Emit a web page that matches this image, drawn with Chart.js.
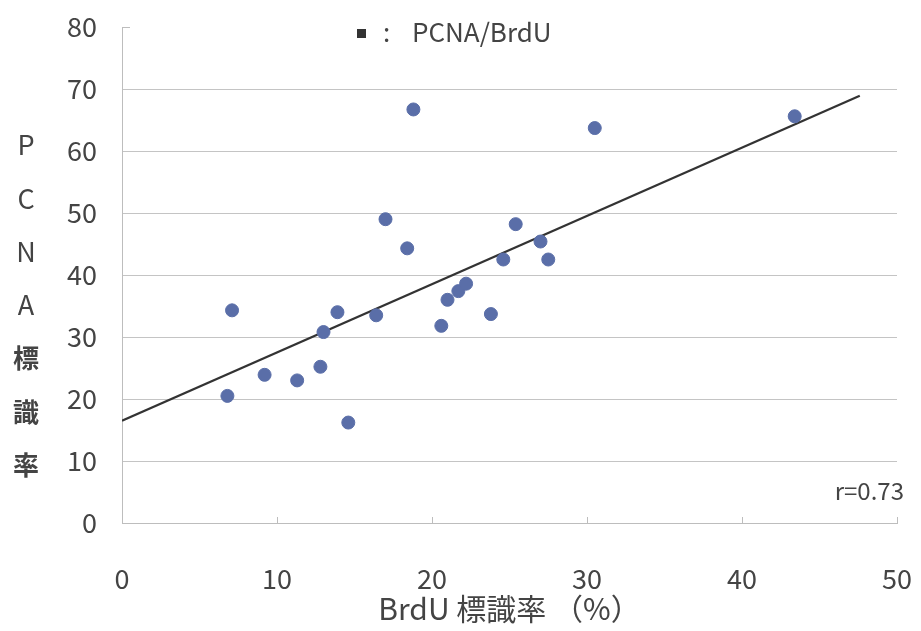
<!DOCTYPE html>
<html>
<head>
<meta charset="utf-8">
<script src="https://cdn.jsdelivr.net/npm/chart.js@4/dist/chart.umd.min.js"></script>
<style>
  html, body { margin: 0; padding: 0; background: #ffffff; }
  #wrap { width: 921px; height: 631px; position: relative; }
</style>
</head>
<body>
<div id="wrap"><canvas id="scatterChart"></canvas></div>
<script>
// measured values: BrdU labelling (%) vs PCNA labelling (%)
const brduRate = [6.8, 7.1, 9.2, 11.3, 12.8, 13.0, 13.9, 14.6, 16.4, 17.0, 18.4, 18.8,
                  20.6, 21.0, 21.7, 22.2, 23.8, 24.6, 25.4, 27.0, 27.5, 30.5, 43.4];
const pcnaRate = [20.5, 34.3, 23.9, 23.0, 25.2, 30.8, 34.0, 16.2, 33.5, 49.0, 44.3, 66.7,
                  31.8, 36.0, 37.4, 38.6, 33.7, 42.5, 48.2, 45.4, 42.5, 63.7, 65.6];
// regression line end points
const fitX = [0, 47.6];
const fitY = [16.5, 68.9];

const xTicks = [0, 10, 20, 30, 40, 50];
const yTitleChars = ['P', 'C', 'N', 'A', '標', '識', '率'];
const legendText = 'PCNA/BrdU';
const rText = 'r=0.73';

const FONT = '"Noto Sans CJK JP", "Noto Sans", sans-serif';
const TEXT = '#444444';

const pointData = brduRate.map((x, i) => ({ x: x, y: pcnaRate[i] }));
const fitData = fitX.map((x, i) => ({ x: x, y: fitY[i] }));

// upright stacked y title, legend text, r value and inward x ticks
const decorations = {
    id: 'decorations',
    afterDraw(chart) {
        const ctx = chart.ctx;
        const area = chart.chartArea;
        const xs = chart.scales.x;
        ctx.save();
        // small inward ticks on the x axis
        ctx.strokeStyle = '#bdbdbd';
        ctx.lineWidth = 1;
        xTicks.forEach(v => {
            const px = Math.round(xs.getPixelForValue(v)) + 0.5;
            ctx.beginPath();
            ctx.moveTo(px, area.bottom);
            ctx.lineTo(px, area.bottom - 6);
            ctx.stroke();
        });
        // short stub at the top of the y axis
        ctx.beginPath();
        ctx.moveTo(area.left, area.top + 0.5);
        ctx.lineTo(area.left + 8, area.top + 0.5);
        ctx.stroke();
        // y title
        ctx.fillStyle = TEXT;
        ctx.textAlign = 'center';
        ctx.textBaseline = 'middle';
        yTitleChars.forEach((c, i) => {
            const isKanji = i >= 4;
            ctx.font = (isKanji ? 'bold 26px ' : '27px ') + FONT;
            ctx.fillText(c, 26, 145 + i * 53.4);
        });
        // legend
        ctx.fillStyle = '#333333';
        ctx.fillRect(357, 29, 9, 9);
        ctx.fillStyle = TEXT;
        ctx.font = '26px ' + FONT;
        ctx.textAlign = 'left';
        ctx.fillText(':', 383, 32);
        ctx.fillText(legendText, 412, 32);
        // correlation coefficient
        ctx.font = '24px ' + FONT;
        ctx.textAlign = 'right';
        ctx.fillText(rText, 904, 491);
        ctx.restore();
    }
};

const ctx = document.getElementById('scatterChart').getContext('2d');
new Chart(ctx, {
    type: 'scatter',
    data: {
        datasets: [{
            label: legendText,
            data: pointData,
            backgroundColor: '#5a6ea8',
            borderColor: '#5a6ea8',
            pointRadius: 6.5,
            pointHoverRadius: 6.5,
            order: 1
        }, {
            label: 'fit',
            data: fitData,
            showLine: true,
            borderColor: '#333333',
            borderWidth: 2.2,
            pointRadius: 0,
            fill: false,
            order: 2
        }]
    },
    options: {
        responsive: true,
        maintainAspectRatio: false,
        animation: false,
        layout: {
            padding: { top: 27, right: 24, left: 0, bottom: 4 }
        },
        plugins: {
            legend: { display: false },
            tooltip: { enabled: false }
        },
        scales: {
            x: {
                type: 'linear',
                min: 0,
                max: 50,
                border: { display: true, color: '#bdbdbd', width: 1 },
                grid: { display: false },
                ticks: {
                    stepSize: 10,
                    padding: 32,
                    color: TEXT,
                    font: { family: FONT, size: 27 }
                },
                title: {
                    display: true,
                    text: 'BrdU 標識率 （%）',
                    color: TEXT,
                    padding: { top: 0, bottom: 0 },
                    font: { family: FONT, size: 30 }
                },
                afterFit(scale) {
                    scale.height = 104;
                    scale.paddingLeft = 0;
                    scale.paddingRight = 0;
                }
            },
            y: {
                type: 'linear',
                min: 0,
                max: 80,
                border: { display: true, color: '#bdbdbd', width: 1 },
                grid: {
                    color: (c) => (c.tick && c.tick.value === 80) ? 'rgba(0,0,0,0)' : '#c4c4c4',
                    lineWidth: 1,
                    drawTicks: false
                },
                ticks: {
                    stepSize: 10,
                    padding: 25,
                    color: TEXT,
                    font: { family: FONT, size: 27 }
                },
                afterFit(scale) {
                    scale.width = 122;
                    scale.paddingTop = 0;
                    scale.paddingBottom = 0;
                }
            }
        }
    },
    plugins: [decorations]
});
</script>
</body>
</html>
